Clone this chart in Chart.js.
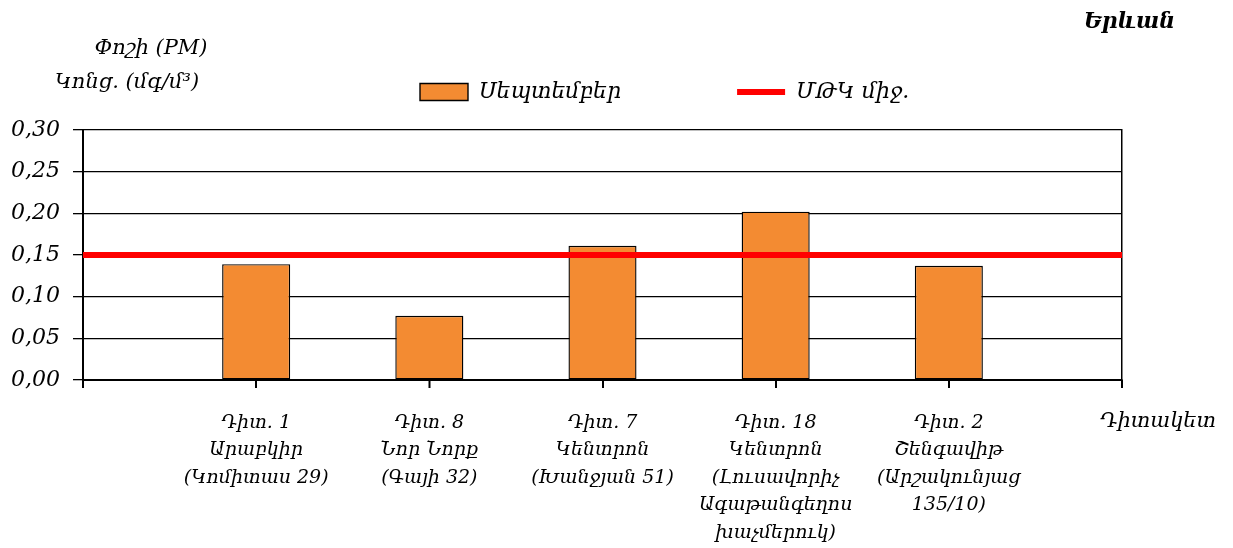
<!DOCTYPE html>
<html><head><meta charset="utf-8">
<script src="https://cdn.jsdelivr.net/npm/chart.js@4.4.1/dist/chart.umd.min.js"></script>
<style>html,body{margin:0;padding:0;background:#fff;}</style>
</head><body>
<canvas id="c" width="1233" height="548"></canvas>
<script>
// ---- data ----
const stationLabels = [
  '',
  ['Դիտ. 1', 'Արաբկիր', '(Կոմիտաս 29)'],
  ['Դիտ. 8', 'Նոր Նորք', '(Գայի 32)'],
  ['Դիտ. 7', 'Կենտրոն', '(Խանջյան 51)'],
  ['Դիտ. 18', 'Կենտրոն', '(Լուսավորիչ', 'Ագաթանգեղոս', 'խաչմերուկ)'],
  ['Դիտ. 2', 'Շենգավիթ', '(Արշակունյաց', '135/10)'],
  ''
];
const septemberValues = [null, 0.139, 0.077, 0.161, 0.202, 0.137, null];
const mpcAverage = [0.15, 0.15, 0.15, 0.15, 0.15, 0.15, 0.15];
const seriesNames = ['Սեպտեմբեր', 'ՄԹԿ միջ.'];
const yTickMin = 0, yTickMax = 0.30, yTickStep = 0.05;
const cityTitle = 'Երևան';
const yTitleLines = ['Փոշի (PM)', 'Կոնց. (մգ/մ³)'];
const xTitle = 'Դիտակետ';

const FAM = '"DejaVu Serif", serif';
Chart.defaults.font.family = FAM;
Chart.defaults.color = '#000';

const LEG_PAD = 116, LEG_FONT = 22;

const textPlugin = {
  id: 'texts',
  afterLayout(chart) {
    const lg = chart.legend;
    if (!lg) return;
    lg.top = 92 - LEG_PAD - LEG_FONT / 2;
    lg.bottom = 115;
    const dx = (420 - LEG_PAD) - lg.left;
    lg.left += dx; lg.right += dx;
  },
  afterDraw(chart) {
    const ctx = chart.ctx;
    ctx.save();
    const xs = chart.scales.x;
    const base = chart.chartArea.bottom;
    ctx.strokeStyle = '#000';
    ctx.lineWidth = 1.5;
    ctx.beginPath();
    xs.ticks.forEach((t, i) => {
      const px = Math.round(xs.getPixelForTick(i)) + 0.25;
      ctx.moveTo(px, base);
      ctx.lineTo(px, base + 8);
    });
    ctx.stroke();
    ctx.fillStyle = '#000';
    ctx.textBaseline = 'middle';
    ctx.font = 'italic bold 22px ' + FAM;
    ctx.textAlign = 'right';
    ctx.fillText(cityTitle, 1175, 22);
    ctx.font = 'italic 21px ' + FAM;
    ctx.textAlign = 'center';
    ctx.fillText(yTitleLines[0], 151, 49);
    ctx.fillText(yTitleLines[1], 127, 83);
    ctx.textAlign = 'left';
    ctx.fillText(xTitle, 1100, 422);
    ctx.restore();
  }
};

new Chart(document.getElementById('c'), {
  data: {
    labels: stationLabels,
    datasets: [
      {
        type: 'bar',
        label: seriesNames[0],
        data: septemberValues,
        backgroundColor: '#F38B32',
        borderColor: '#000',
        borderWidth: 1.4,
        borderSkipped: false,
        categoryPercentage: 1,
        barPercentage: 0.393,
        order: 1
      },
      {
        type: 'line',
        label: seriesNames[1],
        data: mpcAverage,
        borderColor: '#FF0000',
        backgroundColor: '#FF0000',
        borderWidth: 6,
        pointRadius: 0,
        pointHoverRadius: 0,
        fill: false,
        order: 0
      }
    ]
  },
  options: {
    responsive: false,
    animation: false,
    layout: { padding: { left: 0, right: 111, top: 0, bottom: 0 } },
    plugins: {
      title: { display: false },
      tooltip: { enabled: false },
      legend: {
        display: true,
        position: 'top',
        align: 'start',
        maxHeight: 130,
        labels: {
          usePointStyle: true,
          pointStyleWidth: 48,
          boxWidth: 48,
          boxHeight: 17,
          padding: LEG_PAD,
          font: { size: LEG_FONT, style: 'italic', family: FAM },
          color: '#000',
          sort: (a, b) => a.datasetIndex - b.datasetIndex,
          generateLabels(chart) {
            const items = Chart.defaults.plugins.legend.labels.generateLabels(chart);
            items.forEach(it => {
              const ds = chart.data.datasets[it.datasetIndex];
              it.pointStyle = ds.type === 'line' ? 'line' : 'rect';
            });
            return items;
          }
        }
      }
    },
    scales: {
      x: {
        type: 'category',
        offset: false,
        afterFit(s) { s.height = 168; },
        grid: { display: true, offset: false, drawOnChartArea: false, drawTicks: true, tickLength: 8,
                color: '#000', lineWidth: 1.5, tickColor: '#000', tickWidth: 1.5 },
        border: { display: true, color: '#000', width: 2 },
        ticks: {
          autoSkip: false, maxRotation: 0, minRotation: 0, padding: 21,
          font: { size: 19, style: 'italic', family: FAM, lineHeight: 1.45 },
          color: '#000'
        }
      },
      y: {
        type: 'linear',
        position: 'left',
        min: yTickMin, max: yTickMax,
        afterFit(s) { s.width = 83; },
        grid: { display: true, color: '#000', lineWidth: 1.3, tickLength: 10 },
        border: { display: true, color: '#000', width: 2 },
        ticks: {
          stepSize: yTickStep, padding: 13,
          font: { size: 22, style: 'italic', family: FAM },
          color: '#000',
          callback: v => v.toFixed(2).replace('.', ',')
        }
      },
      y2: {
        type: 'linear',
        position: 'right',
        min: yTickMin, max: yTickMax,
        afterFit(s) { s.width = 0; },
        grid: { display: false, drawTicks: false },
        border: { display: true, color: '#000', width: 1.5 },
        ticks: { display: false }
      }
    }
  },
  plugins: [textPlugin]
});
</script>
</body></html>
